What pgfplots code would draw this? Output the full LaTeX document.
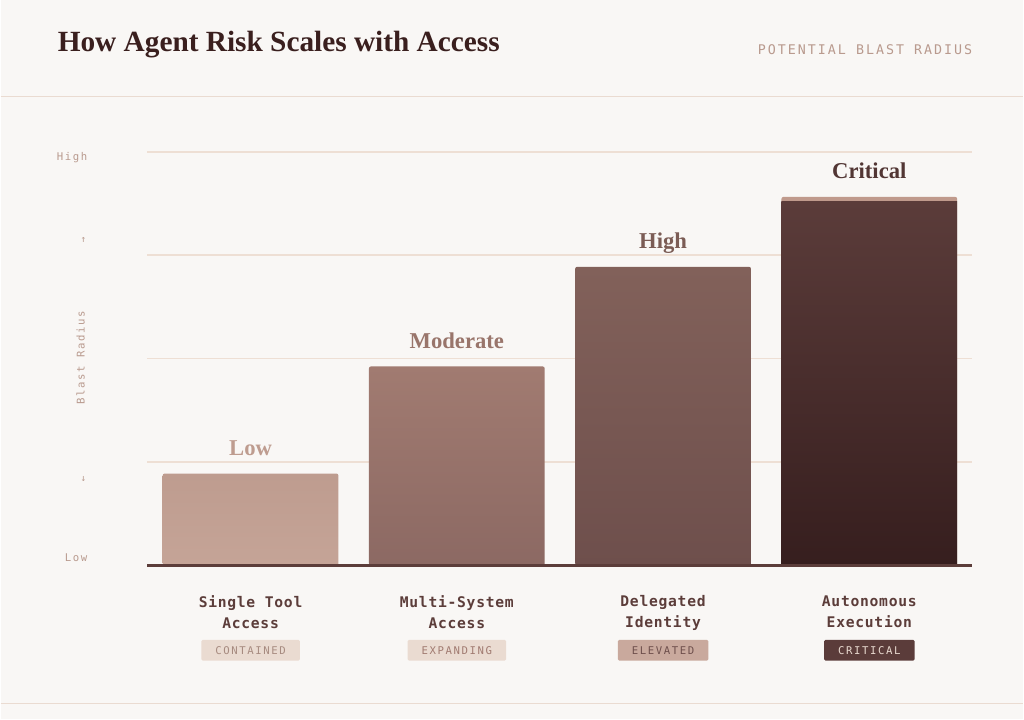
\documentclass[border=0pt]{standalone}
\usepackage{pgfplots}
\pgfplotsset{compat=1.18}
\usepackage{fontspec}
\setmainfont{Liberation Serif}
\newfontfamily\mono{DejaVu Sans Mono}
\newfontfamily\monols{DejaVu Sans Mono}[LetterSpace=15]
\newfontfamily\monocat{DejaVu Sans Mono}[LetterSpace=5]
\definecolor{bg}{HTML}{F9F7F5}
\definecolor{rulec}{HTML}{EADBD1}
\definecolor{gridc}{HTML}{EEDFD4}
\definecolor{ink}{HTML}{3A1F1E}
\definecolor{base}{HTML}{5C3D3A}
\definecolor{muted}{HTML}{B99A8E}
\definecolor{lowt}{HTML}{BE9C8F}\definecolor{lowb}{HTML}{C5A497}
\definecolor{modt}{HTML}{A17B71}\definecolor{modb}{HTML}{8C6963}
\definecolor{hight}{HTML}{82615A}\definecolor{highb}{HTML}{6E4F4C}
\definecolor{crit}{HTML}{5B3C3A}\definecolor{critb}{HTML}{361E1E}
\definecolor{cap}{HTML}{C09A8C}
\begin{document}
\begin{tikzpicture}[x=0.75pt,y=0.75pt]
\fill[bg] (0,0) rectangle (1024,720);
\draw[rulec, line width=0.9pt] (0,623) -- (1024,623);
\draw[rulec, line width=0.9pt] (0,16) -- (1024,16);
\node[anchor=west, text=ink, inner sep=0pt] at (57,675)
  {\fontsize{22}{26}\selectfont\bfseries How Agent Risk Scales with Access};
\node[anchor=east, text=muted, inner sep=0pt] at (973,670)
  {\monols\fontsize{10}{12}\selectfont POTENTIAL BLAST RADIUS};
% side scale
\node[anchor=east, text=muted, inner sep=0pt] at (87,562) {\monols\fontsize{8}{10}\selectfont High};
\node[anchor=east, text=muted, inner sep=0pt] at (87,162) {\monols\fontsize{8}{10}\selectfont Low};
\node[text=muted, inner sep=0pt] at (83,480) {\mono\fontsize{7}{9}\selectfont ↑};
\node[text=muted, inner sep=0pt] at (83,240) {\mono\fontsize{7}{9}\selectfont ↓};
\node[text=muted, inner sep=0pt, rotate=90] at (80,362) {\monols\fontsize{8}{10}\selectfont Blast Radius};
\begin{axis}[
    at={(110.25pt,115.5pt)}, anchor=south west,
    scale only axis,
    width=619.5pt, height=310.5pt,
    xmin=-0.5, xmax=3.5,
    ymin=0, ymax=100,
    ytick={0,25,50,75,100},
    yticklabels={},
    xtick={0,1,2,3},
    xticklabels={{Single Tool\\Access},{Multi-System\\Access},{Delegated\\Identity},{Autonomous\\Execution}},
    xticklabel style={font=\monocat\bfseries\fontsize{11}{16}\selectfont, align=center, text=base, yshift=-19pt},
    major tick length=0pt,
    axis line style={draw=none},
    ymajorgrids=true,
    grid style={draw=gridc, line width=1.1pt},
    clip=false,
]
\addplot[ybar, bar width=0.852, bar shift=0pt, draw=none, top color=lowt, bottom color=lowb, rounded corners=1.5pt] coordinates {(0,22.2)};
\addplot[ybar, bar width=0.852, bar shift=0pt, draw=none, top color=modt, bottom color=modb, rounded corners=1.5pt] coordinates {(1,48.1)};
\addplot[ybar, bar width=0.852, bar shift=0pt, draw=none, top color=hight, bottom color=highb, rounded corners=1.5pt] coordinates {(2,72.2)};
\addplot[ybar, bar width=0.852, bar shift=0pt, draw=none, fill=cap, rounded corners=1.5pt] coordinates {(3,89.1)};
\addplot[ybar, bar width=0.852, bar shift=0pt, draw=none, top color=crit, bottom color=critb] coordinates {(3,87.9)};
\draw[base, line width=2.3pt] (axis cs:-0.5,0) -- (axis cs:3.5,0);
% value labels
\node[anchor=base, text=lowt, inner sep=0pt, yshift=13.5pt] at (axis cs:0,22.2) {\fontsize{17}{20}\selectfont\bfseries Low};
\node[anchor=base, text=modt!95!black, inner sep=0pt, yshift=13.5pt] at (axis cs:1,48.1) {\fontsize{17}{20}\selectfont\bfseries Moderate};
\node[anchor=base, text=hight!95!black, inner sep=0pt, yshift=13.5pt] at (axis cs:2,72.2) {\fontsize{17}{20}\selectfont\bfseries High};
\node[anchor=base, text=crit!90!black, inner sep=0pt, yshift=13.5pt] at (axis cs:3,89.1) {\fontsize{17}{20}\selectfont\bfseries Critical};
% badges
\node[fill=rulec, text=muted!90!black, rounded corners=1pt, inner xsep=10.5pt, minimum height=15.5pt, yshift=-63.75pt] at (axis cs:0,0) {\monols\fontsize{8}{9}\selectfont CONTAINED};
\node[fill=rulec, text=modt, rounded corners=1pt, inner xsep=10.5pt, minimum height=15.5pt, yshift=-63.75pt] at (axis cs:1,0) {\monols\fontsize{8}{9}\selectfont EXPANDING};
\node[fill=cap!85!white, text=highb, rounded corners=1pt, inner xsep=10.5pt, minimum height=15.5pt, yshift=-63.75pt] at (axis cs:2,0) {\monols\fontsize{8}{9}\selectfont ELEVATED};
\node[fill=crit, text=rulec, rounded corners=1pt, inner xsep=10.5pt, minimum height=15.5pt, yshift=-63.75pt] at (axis cs:3,0) {\monols\fontsize{8}{9}\selectfont CRITICAL};
\end{axis}
\end{tikzpicture}
\end{document}
